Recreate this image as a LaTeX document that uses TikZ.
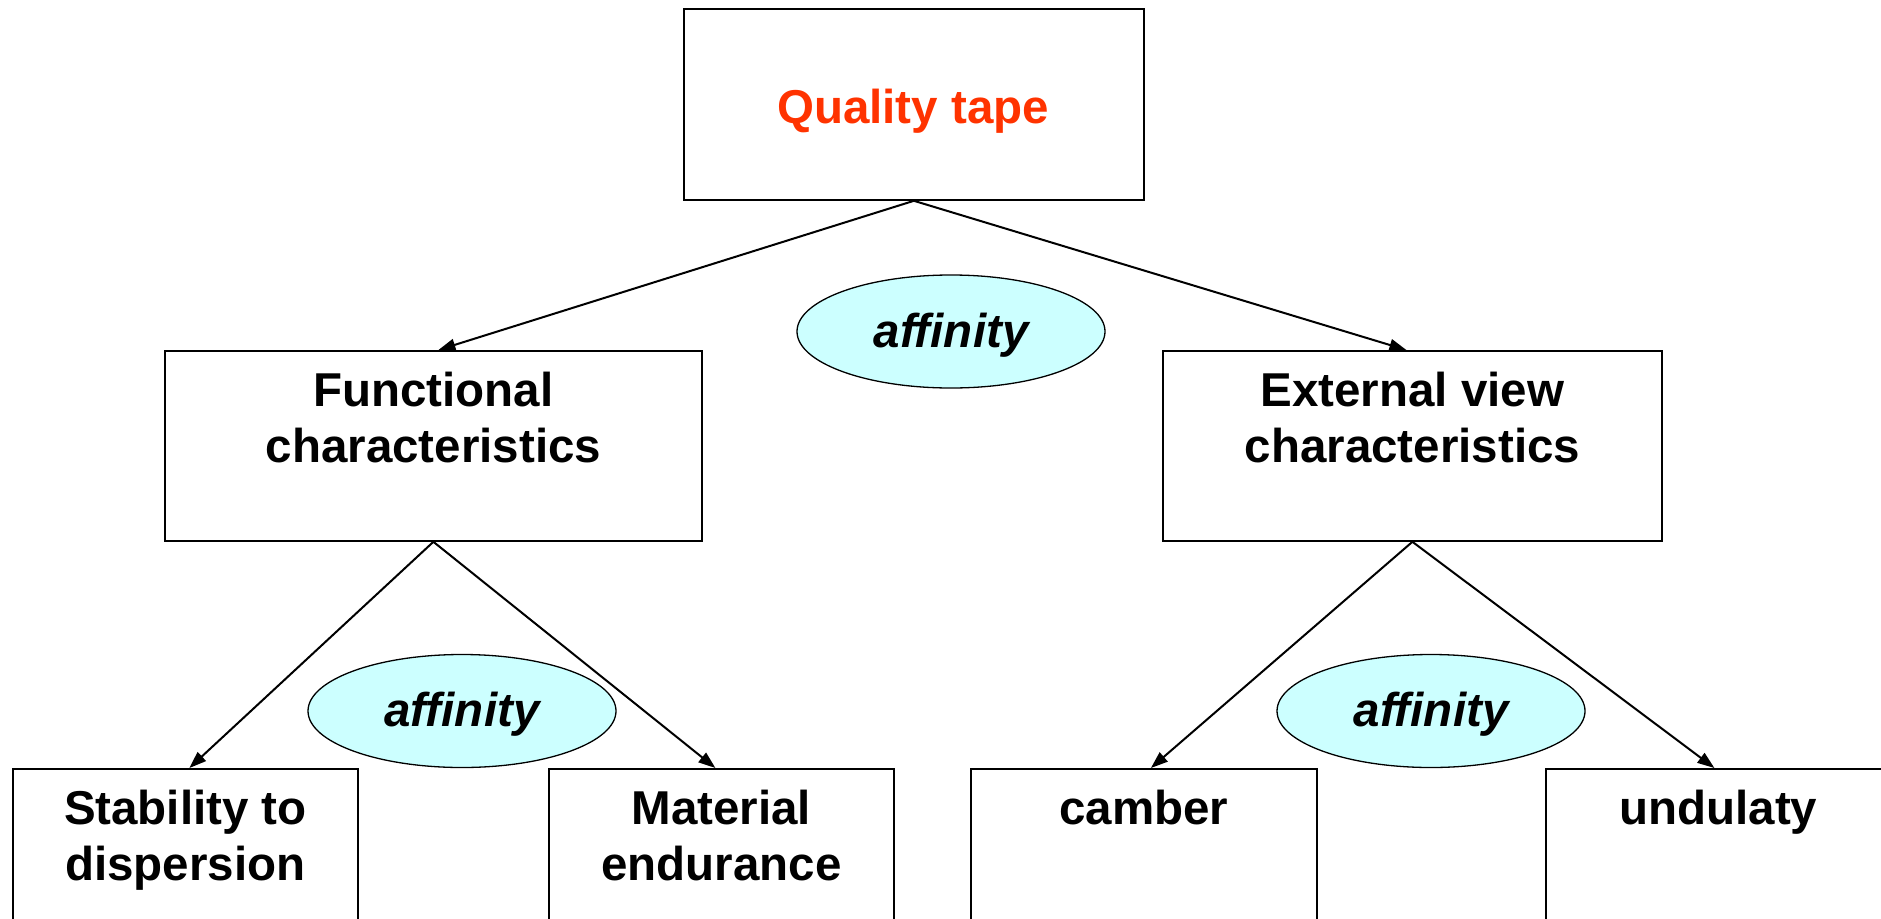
\documentclass[tikz,border=0pt]{standalone}
\usepackage{fontspec}
\setmainfont{Liberation Sans}
\usetikzlibrary{arrows.meta,shapes.geometric}
\definecolor{titlered}{HTML}{FF3300}
\definecolor{affcyan}{HTML}{CCFFFF}
\begin{document}
\begin{tikzpicture}[x=1pt,y=-1pt,
  box/.style={draw,line width=1.8pt,rectangle,inner sep=0pt,anchor=north west},
  txt/.style={font=\fontsize{47.5}{56}\selectfont\bfseries,align=center,inner sep=0pt},
  toplbl/.style={txt,anchor=north,yshift=-22pt},
  aff/.style={draw,line width=1.3pt,ellipse,fill=affcyan,minimum width=308pt,
    minimum height=113pt,inner sep=0pt,
    font=\fontsize{47.5}{56}\selectfont\bfseries\itshape,
    text height=36pt,text depth=5pt},
  link/.style={line width=2pt,-{Triangle[length=17pt,width=12pt]}}]
\useasboundingbox (0,0) rectangle (1881,918);
\clip (0,0) rectangle (1881,918);
\fill[white] (0,0) rectangle (1881,918);

% root
\node[box,minimum width=460pt,minimum height=191pt] (top) at (683,8) {};
\node[txt,text=titlered,anchor=base] (toptxt) at (913,123) {Quality tape};

% second level
\node[box,minimum width=537pt,minimum height=190pt] (func) at (164,350) {};
\node[toplbl] (functxt) at (func.north) {Functional\\characteristics};
\node[box,minimum width=499pt,minimum height=190pt] (ext) at (1162,350) {};
\node[toplbl] (exttxt) at (ext.north) {External view\\characteristics};

% leaves
\node[box,minimum width=345pt,minimum height=200pt] (stab) at (12,768) {};
\node[toplbl] (stabtxt) at (stab.north) {Stability to\\dispersion};
\node[box,minimum width=345pt,minimum height=200pt] (mat) at (548,768) {};
\node[toplbl] (mattxt) at (mat.north) {Material\\endurance};
\node[box,minimum width=346pt,minimum height=200pt] (camb) at (970,768) {};
\node[toplbl] (cambtxt) at (camb.north) {camber};
\node[box,minimum width=345pt,minimum height=200pt] (und) at (1545,768) {};
\node[toplbl] (undtxt) at (und.north) {undulaty};

% relations
\node[aff] (aff1) at (951,331.5) {affinity};
\node[aff] (aff2) at (462,711) {affinity};
\node[aff] (aff3) at (1431,711) {affinity};

% connectors
\draw[link] (top.south) -- ([xshift=5pt]func.north);
\draw[link] (top.south) -- ([xshift=-6pt]ext.north);
\draw[link] (func.south) -- ([xshift=4pt]stab.north);
\draw[link] (func.south) -- ([xshift=-6pt]mat.north);
\draw[link] (ext.south) -- ([xshift=7pt]camb.north);
\draw[link] (ext.south) -- ([xshift=-4pt]und.north);
\end{tikzpicture}
\end{document}
